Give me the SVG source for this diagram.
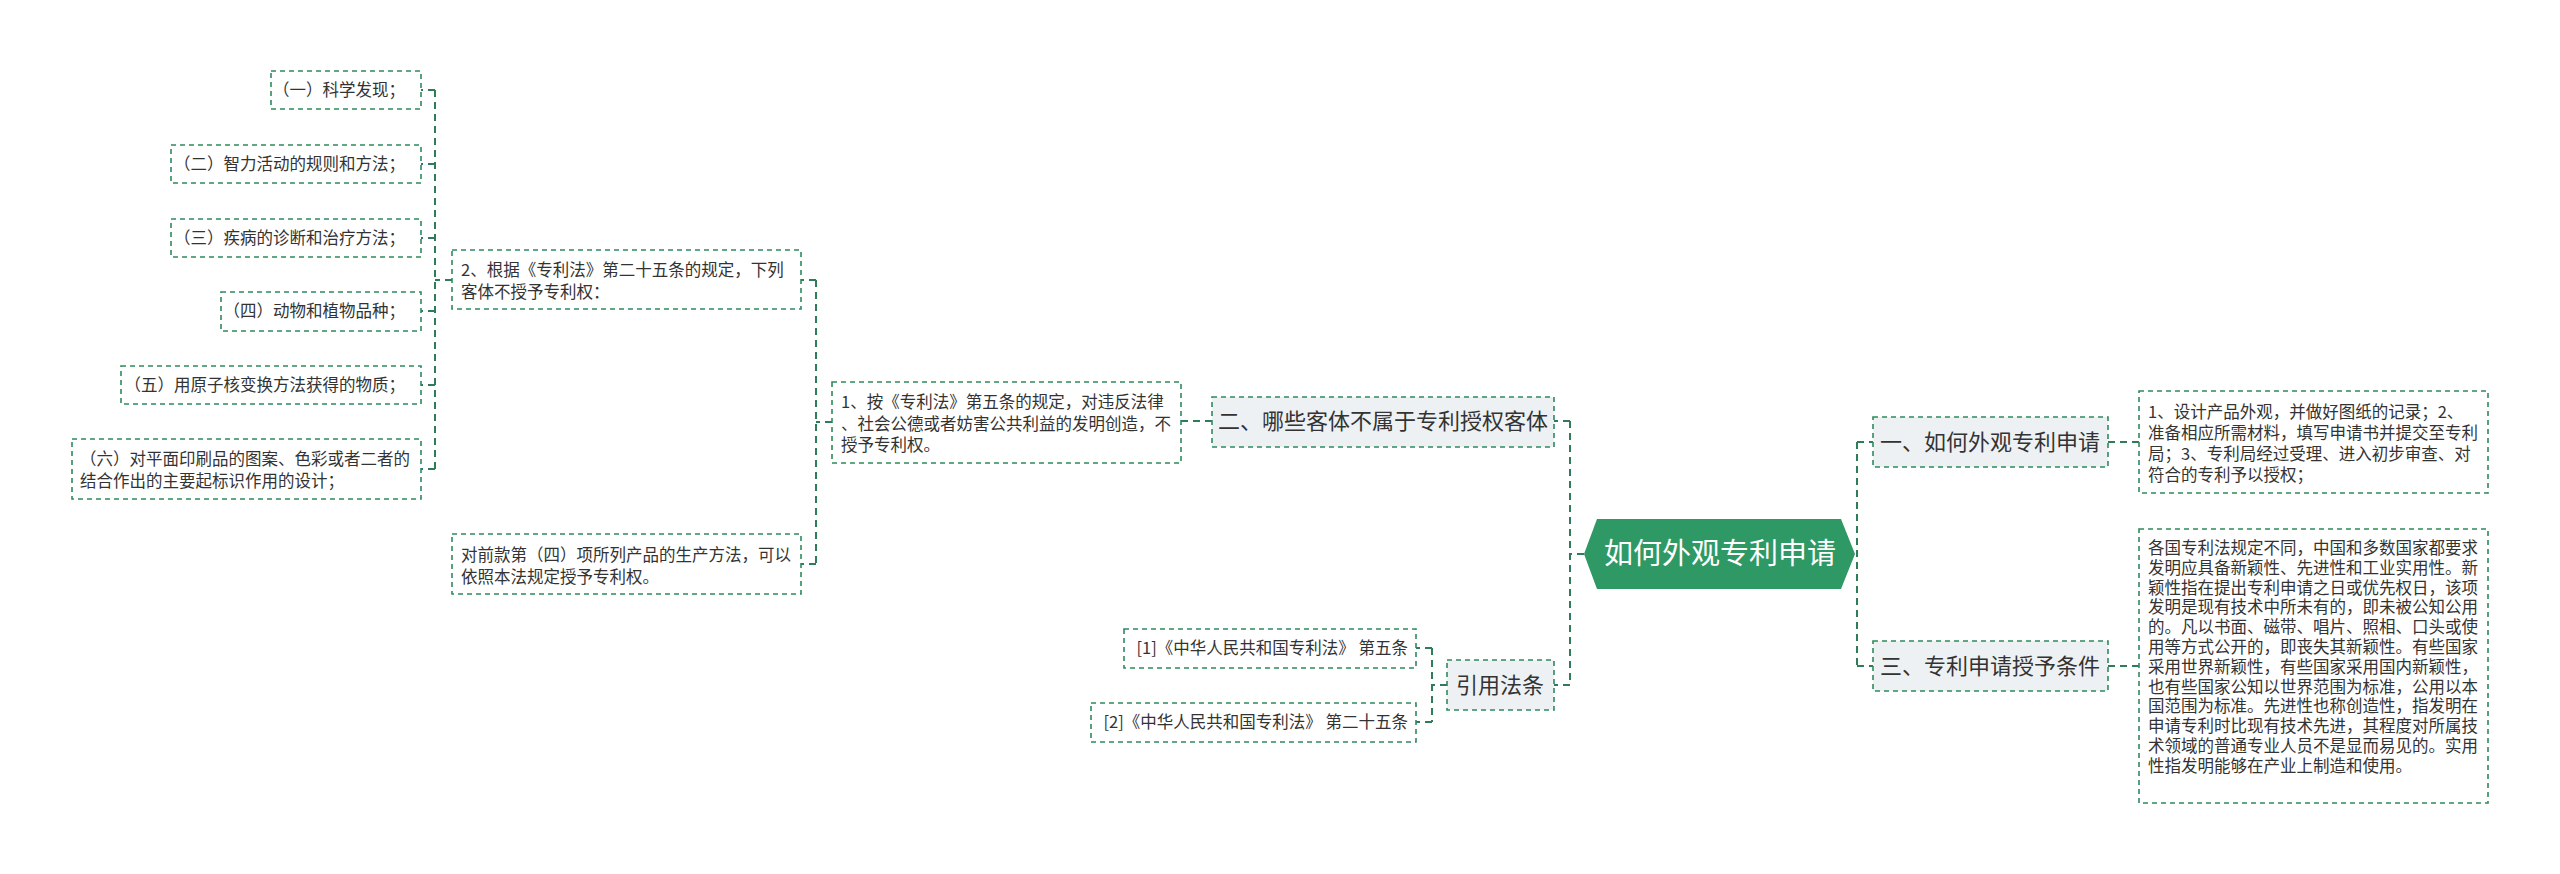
<svg xmlns="http://www.w3.org/2000/svg" width="2560" height="874" viewBox="0 0 2560 874">
<style>
text{font-family:"Noto Sans CJK SC","Noto Sans",sans-serif;fill:#333}
.leaf{fill:#fff;stroke:#2e8a5c;stroke-width:1.6;stroke-dasharray:5 4}
.br{fill:#eef1f4;stroke:#2e8a5c;stroke-width:1.6;stroke-dasharray:5 4}
.s{font-size:16.5px}
.b{font-size:22px}
#connectors path{fill:none;stroke:#2e7d58;stroke-width:2;stroke-dasharray:7 5}
</style>
<rect width="2560" height="874" fill="#fff"/>
<g id="connectors">
<path d="M1847 554H1857M1857 442V666M1857 442H1873M1857 666H1873M2108 442H2139M2108 666H2139"/>
<path d="M1584 554H1570M1570 421V685M1570 421H1554M1570 685H1554"/>
<path d="M1212 421H1181M832 422H816M816 280V564M816 280H801M816 564H801"/>
<path d="M452 280H435M435 90V469M435 90H421M435 164H421M435 238H421M435 311H421M435 385H421M435 469H421"/>
<path d="M1447 685H1432M1432 648V722M1432 648H1416M1432 722H1416"/>
</g>
<g id="root"><polygon points="1584,554 1597,519 1841,519 1855,554 1841,589 1597,589" fill="#2e9965"/><text x="1720" y="564" font-size="29" text-anchor="middle" style="fill:#fff">如何外观专利申请</text></g>
<g id="b1"><rect class="br" x="1873" y="417" width="235" height="50"/><text class="b" x="1990" y="450" text-anchor="middle">一、如何外观专利申请</text></g>
<g id="b3"><rect class="br" x="1873" y="641" width="235" height="50"/><text class="b" x="1990" y="674" text-anchor="middle">三、专利申请授予条件</text></g>
<g id="d1"><rect class="leaf" x="2139" y="391" width="349" height="102"/><text class="s" x="2148" y="418"><tspan x="2148">1、设计产品外观，并做好图纸的记录；2、</tspan><tspan x="2148" dy="21">准备相应所需材料，填写申请书并提交至专利</tspan><tspan x="2148" dy="21">局；3、专利局经过受理、进入初步审查、对</tspan><tspan x="2148" dy="21">符合的专利予以授权；</tspan></text></g>
<g id="d3"><rect class="leaf" x="2139" y="529" width="349" height="274"/><text class="s" x="2148" y="554"><tspan x="2148">各国专利法规定不同，中国和多数国家都要求</tspan><tspan x="2148" dy="19.8">发明应具备新颖性、先进性和工业实用性。新</tspan><tspan x="2148" dy="19.8">颖性指在提出专利申请之日或优先权日，该项</tspan><tspan x="2148" dy="19.8">发明是现有技术中所未有的，即未被公知公用</tspan><tspan x="2148" dy="19.8">的。凡以书面、磁带、唱片、照相、口头或使</tspan><tspan x="2148" dy="19.8">用等方式公开的，即丧失其新颖性。有些国家</tspan><tspan x="2148" dy="19.8">采用世界新颖性，有些国家采用国内新颖性，</tspan><tspan x="2148" dy="19.8">也有些国家公知以世界范围为标准，公用以本</tspan><tspan x="2148" dy="19.8">国范围为标准。先进性也称创造性，指发明在</tspan><tspan x="2148" dy="19.8">申请专利时比现有技术先进，其程度对所属技</tspan><tspan x="2148" dy="19.8">术领域的普通专业人员不是显而易见的。实用</tspan><tspan x="2148" dy="19.8">性指发明能够在产业上制造和使用。</tspan></text></g>
<g id="b2"><rect class="br" x="1212" y="397" width="342" height="50"/><text class="b" x="1383" y="429" text-anchor="middle">二、哪些客体不属于专利授权客体</text></g>
<g id="b4"><rect class="br" x="1447" y="660" width="107" height="50"/><text class="b" x="1500" y="693" text-anchor="middle">引用法条</text></g>
<g id="r1"><rect class="leaf" x="1124" y="629" width="292" height="39"/><text class="s" x="1408" y="654" text-anchor="end">[1]《中华人民共和国专利法》 第五条</text></g>
<g id="r2"><rect class="leaf" x="1091" y="703" width="325" height="39"/><text class="s" x="1408" y="728" text-anchor="end">[2]《中华人民共和国专利法》 第二十五条</text></g>
<g id="c1"><rect class="leaf" x="832" y="382" width="349" height="81"/><text class="s" x="841" y="408"><tspan x="841">1、按《专利法》第五条的规定，对违反法律</tspan><tspan x="841" dy="21.7">、社会公德或者妨害公共利益的发明创造，不</tspan><tspan x="841" dy="21.7">授予专利权。</tspan></text></g>
<g id="c2"><rect class="leaf" x="452" y="250" width="349" height="59"/><text class="s" x="461" y="276"><tspan x="461">2、根据《专利法》第二十五条的规定，下列</tspan><tspan x="461" dy="22">客体不授予专利权：</tspan></text></g>
<g id="c3"><rect class="leaf" x="452" y="534" width="349" height="60"/><text class="s" x="461" y="561"><tspan x="461">对前款第（四）项所列产品的生产方法，可以</tspan><tspan x="461" dy="22">依照本法规定授予专利权。</tspan></text></g>
<g id="i1"><rect class="leaf" x="271" y="71" width="150" height="38"/><text class="s" x="405" y="96" text-anchor="end">（一）科学发现；</text></g>
<g id="i2"><rect class="leaf" x="171" y="145" width="250" height="38"/><text class="s" x="405" y="170" text-anchor="end">（二）智力活动的规则和方法；</text></g>
<g id="i3"><rect class="leaf" x="171" y="219" width="250" height="38"/><text class="s" x="405" y="244" text-anchor="end">（三）疾病的诊断和治疗方法；</text></g>
<g id="i4"><rect class="leaf" x="221" y="292" width="200" height="39"/><text class="s" x="405" y="317" text-anchor="end">（四）动物和植物品种；</text></g>
<g id="i5"><rect class="leaf" x="121" y="366" width="300" height="38"/><text class="s" x="405" y="391" text-anchor="end">（五）用原子核变换方法获得的物质；</text></g>
<g id="i6"><rect class="leaf" x="72" y="439" width="349" height="60"/><text class="s" x="80" y="465"><tspan x="80">（六）对平面印刷品的图案、色彩或者二者的</tspan><tspan x="80" dy="22">结合作出的主要起标识作用的设计；</tspan></text></g>
</svg>
